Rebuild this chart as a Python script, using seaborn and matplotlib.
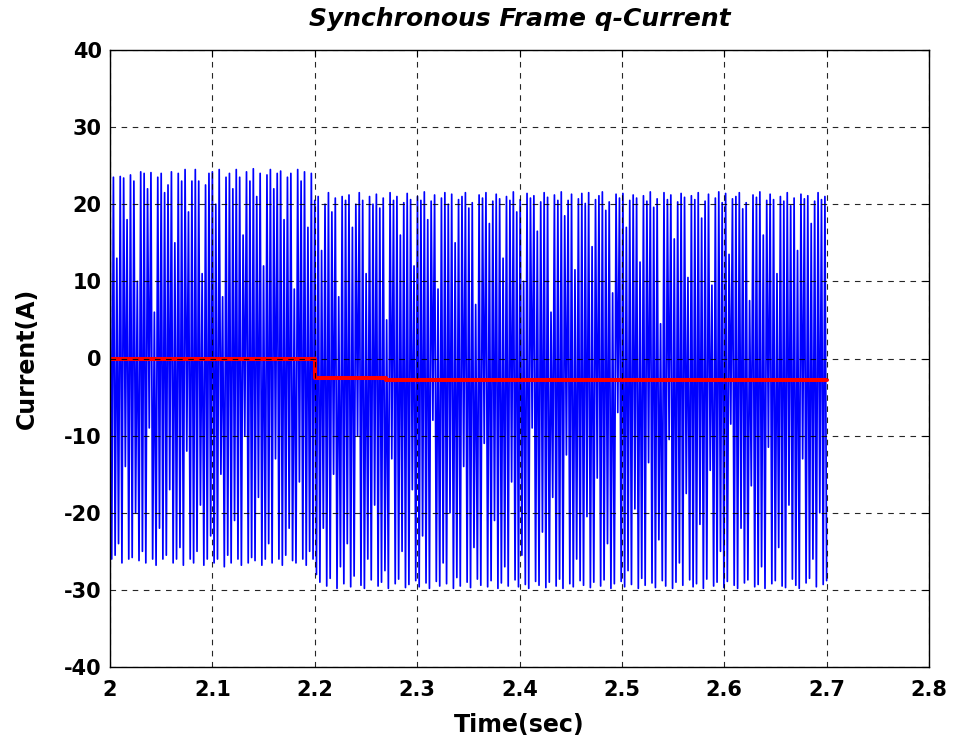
import numpy as np
import pandas as pd
import matplotlib
matplotlib.use("Agg")
import matplotlib.pyplot as plt
import seaborn as sns

# ---- data ----
seg_bounds = [2.0, 2.2, 2.7]

hi1 = [24.0, 23.5, 13.0, 23.6, 23.4, 18.0, 23.8, 23.0, 10.0, 24.2,
       24.0, 22.0, 24.1, 6.0, 23.5, 24.0, 21.5, 22.5, 24.2, 15.0,
       24.0, 23.0, 24.5, 19.0, 23.0, 24.5, 23.0, 11.0, 22.5, 24.0,
       24.2, 20.0, 24.5, 8.0, 23.5, 24.0, 22.0, 24.5, 23.5, 16.0,
       24.2, 23.0, 24.6, 21.0, 24.0, 12.0, 23.8, 24.5, 22.0, 24.0,
       24.3, 18.0, 23.5, 24.0, 9.0, 24.5, 23.0, 24.2, 17.0, 24.0]
lo1 = [-26.0, -25.5, -24.0, -26.5, -14.0, -26.0, -25.8, -20.0, -26.2, -25.0,
       -26.5, -9.0, -26.0, -26.8, -22.0, -26.0, -25.5, -17.0, -26.5, -26.0,
       -24.5, -26.8, -12.0, -26.0, -26.5, -25.0, -19.0, -26.8, -26.0, -23.0,
       -26.5, -26.0, -15.0, -27.0, -25.5, -26.5, -21.0, -26.0, -26.8, -10.0,
       -26.5, -25.8, -26.2, -18.0, -26.8, -26.0, -24.0, -26.5, -13.0, -26.0,
       -26.8, -25.5, -22.0, -26.2, -26.5, -16.0, -26.0, -26.8, -25.0, -26.0]

hi2 = [20.5, 21.0, 14.0, 20.0, 21.5, 19.0, 20.8, 8.0, 21.0, 20.5,
       21.2, 17.0, 20.0, 21.5, 20.5, 11.0, 21.0, 20.0, 21.3, 19.5,
       20.8, 5.0, 21.5, 20.5, 21.0, 16.0, 20.2, 21.4, 20.6, 12.0,
       21.0, 20.5, 21.6, 18.0, 20.4, 21.2, 9.0, 20.8, 21.5, 20.0,
       21.3, 15.0, 20.6, 21.0, 21.5, 19.5, 20.2, 7.0, 21.2, 20.8,
       21.5, 17.5, 20.4, 21.3, 20.7, 13.0, 21.0, 20.5, 21.6, 19.0,
       20.6, 10.0, 21.4, 20.8, 21.1, 16.5, 20.3, 21.5, 20.9, 6.0,
       21.2, 20.5, 21.6, 18.5, 20.5, 21.3, 11.5, 20.7, 21.4, 20.1,
       21.5, 14.5, 20.6, 21.1, 21.6, 19.2, 20.3, 8.5, 21.3, 20.8,
       21.4, 17.0, 20.5, 21.2, 20.8, 12.5, 21.1, 20.4, 21.6, 19.6,
       20.7, 4.5, 21.5, 20.6, 21.2, 15.5, 20.3, 21.4, 20.9, 10.5,
       21.1, 20.6, 21.5, 18.2, 20.4, 21.3, 9.5, 20.8, 21.6, 20.2,
       21.4, 13.5, 20.7, 21.0, 21.5, 19.4, 20.2, 7.5, 21.2, 20.9,
       21.6, 16.0, 20.5, 21.3, 20.6, 11.0, 21.0, 20.4, 21.5, 19.8,
       20.8, 14.0, 21.3, 20.7, 21.1, 17.5, 20.4, 21.5, 20.6, 21.0]
lo2 = [-28.0, -29.0, -22.0, -29.5, -28.5, -15.0, -29.8, -27.0, -29.2, -24.0,
       -29.6, -28.2, -10.0, -29.4, -29.8, -26.0, -28.7, -19.0, -29.5, -29.0,
       -27.5, -29.8, -13.0, -29.2, -28.6, -25.0, -29.7, -29.3, -17.0, -28.8,
       -29.6, -23.0, -29.1, -29.8, -8.0, -28.9, -29.5, -26.5, -29.2, -20.0,
       -29.8, -28.4, -29.5, -14.0, -29.0, -29.7, -24.5, -28.6, -29.4, -11.0,
       -29.6, -28.8, -21.0, -29.8, -29.1, -27.0, -29.5, -16.0, -28.7, -29.6,
       -25.5, -29.3, -29.8, -9.0, -28.9, -29.4, -22.5, -29.7, -29.0, -18.0,
       -29.5, -28.6, -29.8, -12.5, -29.2, -29.6, -26.0, -28.8, -29.4, -20.5,
       -29.7, -29.0, -15.5, -29.5, -28.7, -24.0, -29.8, -29.2, -7.0, -28.9,
       -29.6, -27.5, -29.3, -19.5, -29.8, -28.5, -29.4, -13.5, -29.1, -29.7,
       -23.5, -28.8, -29.5, -10.5, -29.8, -29.0, -26.5, -29.4, -17.5, -28.7,
       -29.6, -29.2, -21.5, -29.8, -28.6, -14.5, -29.5, -29.0, -25.0, -29.7,
       -28.9, -8.5, -29.4, -29.8, -22.0, -29.1, -28.7, -16.5, -29.6, -29.3,
       -27.0, -29.8, -11.5, -29.2, -28.8, -24.5, -29.5, -29.7, -19.0, -28.6,
       -29.4, -29.8, -13.0, -29.1, -28.5, -26.0, -29.6, -20.0, -29.3, -28.8]

red_t = [2.0, 2.2, 2.27, 2.7]
red_v = [0.0, -2.5, -2.8, -2.8]

x_ticks = [2.0, 2.1, 2.2, 2.3, 2.4, 2.5, 2.6, 2.7, 2.8]
x_tick_labels = ["2", "2.1", "2.2", "2.3", "2.4", "2.5", "2.6", "2.7", "2.8"]
y_ticks = [-40, -30, -20, -10, 0, 10, 20, 30, 40]

# ---- build tables ----
def interleave(hi, lo):
    return np.column_stack([hi, lo]).ravel()

v1 = interleave(hi1, lo1)
v2 = interleave(hi2, lo2)
t1 = np.linspace(seg_bounds[0], seg_bounds[1], len(v1), endpoint=False)
t2 = np.linspace(seg_bounds[1], seg_bounds[2], len(v2))
blue_df = pd.DataFrame({"t": np.concatenate([t1, t2]),
                        "i": np.concatenate([v1, v2])})

# step version of red line
rt, rv = [], []
for k in range(len(red_t) - 1):
    rt += [red_t[k], red_t[k + 1]]
    rv += [red_v[k], red_v[k]]
red_df = pd.DataFrame({"t": rt, "i": rv})

sns.set_style("white")
plt.rcParams["font.family"] = ["DejaVu Sans"]
plt.rcParams["axes.unicode_minus"] = False
plt.rcParams["text.color"] = "black"
plt.rcParams["axes.labelcolor"] = "black"

fig = plt.figure(figsize=(9.54, 7.46), dpi=100)
ax = fig.add_axes([110 / 954, 1 - 667 / 746, (929 - 110) / 954, (667 - 50) / 746])

sns.lineplot(data=blue_df, x="t", y="i", ax=ax, color="#0000ff",
             linewidth=1.25, estimator=None, sort=False)
sns.lineplot(data=red_df, x="t", y="i", ax=ax, color="#ff0000",
             linewidth=2.9, estimator=None, sort=False)

ax.set_xlim(2.0, 2.8)
ax.set_ylim(-40, 40)
ax.set_xticks(x_ticks)
ax.set_xticklabels(x_tick_labels)
ax.set_yticks(y_ticks)
ax.grid(True, color="black", linestyle=(0, (5, 5)), linewidth=0.8, alpha=0.85)
ax.set_axisbelow(False)
for s in ax.spines.values():
    s.set_visible(True)
    s.set_color("black")
    s.set_linewidth(1.0)
ax.tick_params(direction="in", length=5, width=0.8, top=True, right=True,
               labelsize=15, colors="black")
ax.tick_params(axis="x", pad=9)
ax.tick_params(axis="y", pad=6)
for lab in ax.get_xticklabels() + ax.get_yticklabels():
    lab.set_fontweight("bold")

ax.set_title("Synchronous Frame q-Current", fontsize=18, fontweight="bold",
             fontstyle="italic", pad=17, color="black")
ax.set_xlabel("Time(sec)", fontsize=17, fontweight="bold", labelpad=10)
ax.set_ylabel("Current(A)", fontsize=17, fontweight="bold", labelpad=18)

fig.savefig("out.png", dpi=100, facecolor="white")
